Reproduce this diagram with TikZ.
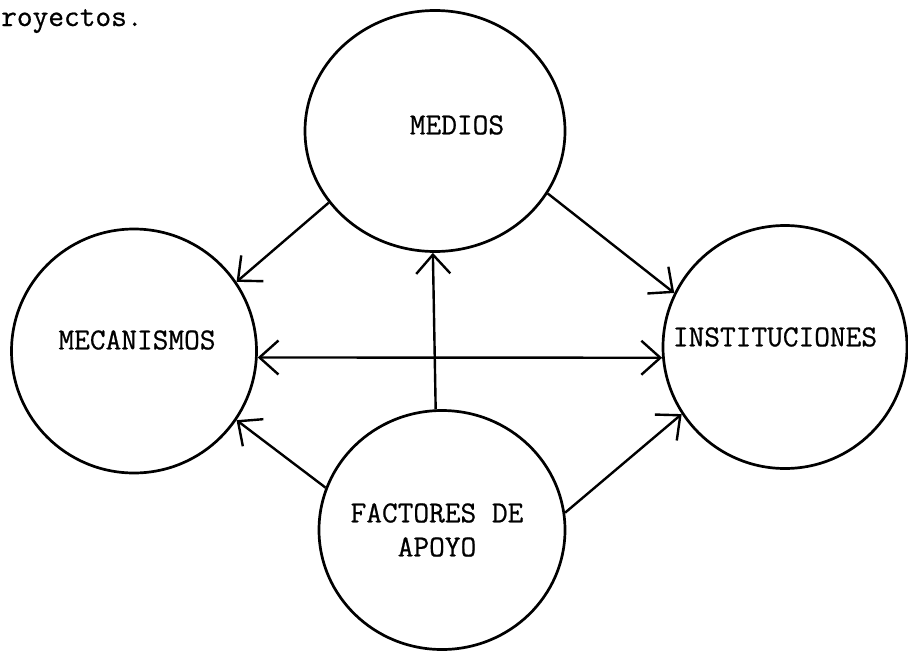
\documentclass[tikz,border=0pt]{standalone}
\usepackage{fontspec}
\newfontfamily\typew[FakeBold=0.7]{Latin Modern Mono}
\usetikzlibrary{arrows.meta,shapes.geometric}
\begin{document}
\begin{tikzpicture}[x=1pt,y=-1pt,
  bubble/.style={draw,ellipse,line width=2.7pt,inner sep=0pt},
  lbl/.style={font=\typew\fontsize{30.5}{34}\selectfont,inner sep=0pt,align=center},
  conn/.style={line width=2.4pt,-{Straight Barb[length=19pt,width=34pt]}},
  conn2/.style={line width=2.4pt,{Straight Barb[length=19pt,width=34pt]}-{Straight Barb[length=19pt,width=34pt]}}]
\useasboundingbox (0,0) rectangle (908,651);
% circles
\node[bubble,minimum width=260pt,minimum height=241pt] (med) at (435,131) {};
\node[bubble,minimum width=245pt,minimum height=244pt] (mec) at (134,351) {};
\node[bubble,minimum width=244pt,minimum height=243pt] (ins) at (785,347) {};
\node[bubble,minimum width=246pt,minimum height=239pt] (fac) at (442,530) {};
% labels
\node[lbl] (tmed) at (457,125) {MEDIOS};
\node[lbl] (tmec) at (137,340) {MECANISMOS};
\node[lbl] (tins) at (775,337) {INSTITUCIONES};
\node[lbl] (tfac) at (437,530) {FACTORES DE\\APOYO};
\node[lbl,anchor=base west] (top) at (1,26) {royectos.};
% connectors
\draw[conn] (med.214) -- (mec.34);
\draw[conn] (med.331) -- (ins.154);
\draw[conn] (fac.93) -- (med.269);
\draw[conn2] (mec.-3) -- (ins.185);
\draw[conn] (fac.160) -- (mec.-34);
\draw[conn] (fac.8) -- (ins.213);
\end{tikzpicture}
\end{document}
